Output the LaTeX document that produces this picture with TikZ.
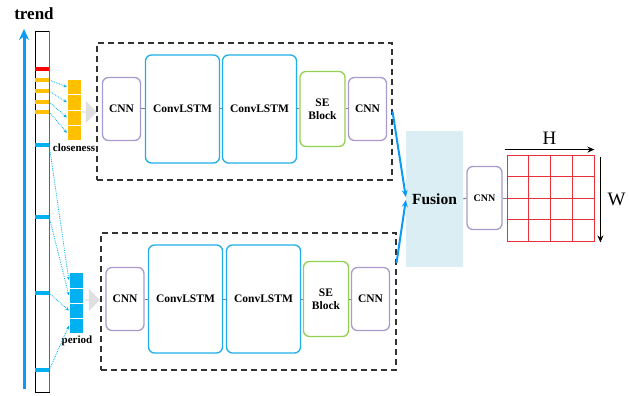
\documentclass[tikz,border=0pt]{standalone}
\usepackage{fontspec}
\setmainfont{Liberation Serif}
\usepackage{tikz}
\usetikzlibrary{shapes.arrows, arrows.meta, positioning, calc}
\definecolor{cnnPurple}{HTML}{A99BCB}
\definecolor{lstmBlue}{HTML}{1FAEE9}
\definecolor{seGreen}{HTML}{92D050}
\definecolor{closeOrange}{HTML}{FFC000}
\definecolor{periodBlue}{HTML}{00B0F0}
\definecolor{fusionBg}{HTML}{DAEEF3}
\definecolor{trendBlue}{HTML}{0C9BF2}
\definecolor{gridRed}{HTML}{E8303A}

\begin{document}
\begin{tikzpicture}[x=1pt, y=-1pt,
  block/.style={draw, rounded corners=6pt, line width=1.3pt, font=\bfseries\fontsize{11.5}{12.5}\selectfont, align=center, inner sep=1pt},
  cnn/.style={block, draw=cnnPurple, minimum width=38pt, minimum height=63pt},
  lstm/.style={block, draw=lstmBlue, minimum width=74pt, minimum height=108pt},
  seblock/.style={block, draw=seGreen, minimum width=45pt, minimum height=75pt},
  frame/.style={draw=black!80, line width=1.1pt, dash pattern=on 6pt off 4pt, minimum width=295pt, minimum height=137pt},
  link/.style={draw=gray, line width=1pt},
  tick/.style={minimum width=14pt, minimum height=4pt, inner sep=0pt},
  cell/.style={draw=white, line width=0.3pt, minimum width=14pt, minimum height=15.3pt, inner sep=0pt},
  feed/.style={-{Stealth[length=3.5pt, width=3pt]}, periodBlue, densely dotted, line width=0.8pt},
  into/.style={single arrow, fill=gray!25, minimum height=15pt, minimum width=22pt, single arrow head extend=4pt, inner sep=0pt},
  lbl/.style={font=\bfseries\fontsize{11}{12}\selectfont, inner sep=1pt}
]
  \useasboundingbox (0,0) rectangle (630,396);

  % time axis
  \node[font=\bfseries\fontsize{17}{18}\selectfont] (trend) at (34,14) {trend};
  \coordinate (trendFoot) at (24,389);
  \coordinate (trendTip) at (24,29);
  \draw[-{Stealth[length=11pt, width=10pt]}, trendBlue, line width=3pt] (trendFoot) -- (trendTip);
  \node[draw=black, line width=0.8pt, minimum width=14pt, minimum height=361pt, inner sep=0pt] (bar) at (42,211.5) {};
  \draw[gray!80!black, line width=1.6pt] (bar.north east) -- (bar.south east);

  \node[tick, fill=red] (r1) at (42,69) {};
  \node[tick, fill=closeOrange] (c1) at (42,80) {};
  \node[tick, fill=closeOrange] (c2) at (42,91) {};
  \node[tick, fill=closeOrange] (c3) at (42,102) {};
  \node[tick, fill=closeOrange] (c4) at (42,112) {};
  \node[tick, fill=periodBlue] (p1) at (42,145) {};
  \node[tick, fill=periodBlue] (p2) at (42,217) {};
  \node[tick, fill=periodBlue] (p3) at (42,293) {};
  \node[tick, fill=periodBlue] (p4) at (42,370) {};

  % input stacks
  \node[cell, fill=closeOrange] (cs1) at (74,87) {};
  \node[cell, fill=closeOrange] (cs2) at (74,102.3) {};
  \node[cell, fill=closeOrange] (cs3) at (74,117.6) {};
  \node[cell, fill=closeOrange] (cs4) at (74,132.9) {};
  \node[cell, fill=periodBlue] (ps1) at (76,280) {};
  \node[cell, fill=periodBlue] (ps2) at (76,295.3) {};
  \node[cell, fill=periodBlue] (ps3) at (76,310.6) {};
  \node[cell, fill=periodBlue] (ps4) at (76,325.9) {};
  \node[lbl] (closeLbl) at (74,148) {closeness};
  \node[lbl] (periodLbl) at (77,341) {period};

  \draw[feed] (c1.east) -- (cs1.west);
  \draw[feed] (c2.east) -- (cs2.west);
  \draw[feed] (c3.east) -- (cs3.west);
  \draw[feed] (c4.east) -- (cs4.west);
  \draw[feed] (p1.east) -- (ps1.west);
  \draw[feed] (p2.east) -- (ps2.west);
  \draw[feed] (p3.east) -- (ps3.west);
  \draw[feed] (p4.east) -- (ps4.west);

  \node[into] (closeIn) at (89,112) {};
  \node[into] (periodIn) at (92,300) {};

  % closeness branch
  \node[frame] (topFrame) at (244.5,111.5) {};
  \node[cnn] (cnnA) at (121.5,109) {CNN};
  \node[lstm] (lstmA) at (182.5,109) {ConvLSTM};
  \node[lstm] (lstmB) at (259.5,109) {ConvLSTM};
  \node[seblock] (seA) at (322.5,109) {SE\\Block};
  \node[cnn] (cnnB) at (367.5,109) {CNN};
  \draw[link] (cnnA) -- (lstmA);
  \draw[link] (lstmA) -- (lstmB);
  \draw[link] (lstmB) -- (seA);
  \draw[link] (seA) -- (cnnB);

  % period branch
  \node[frame] (botFrame) at (248.5,301.5) {};
  \node[cnn] (cnnC) at (125,299) {CNN};
  \node[lstm] (lstmC) at (185.5,299) {ConvLSTM};
  \node[lstm] (lstmD) at (263.5,299) {ConvLSTM};
  \node[seblock] (seB) at (326,299) {SE\\Block};
  \node[cnn] (cnnD) at (370.5,299) {CNN};
  \draw[link] (cnnC) -- (lstmC);
  \draw[link] (lstmC) -- (lstmD);
  \draw[link] (lstmD) -- (seB);
  \draw[link] (seB) -- (cnnD);

  % fusion and output
  \node[fill=fusionBg, minimum width=57pt, minimum height=136pt, font=\bfseries\fontsize{15.5}{16}\selectfont] (fusion) at (434.5,199) {Fusion};
  \draw[-{Stealth[length=7pt, width=6pt]}, trendBlue, line width=2pt] (topFrame.east) -- ([yshift=2pt]fusion.west);
  \draw[-{Stealth[length=7pt, width=6pt]}, trendBlue, line width=2pt] ($(botFrame.north east)!0.22!(botFrame.south east)$) -- ([yshift=-1pt]fusion.west);

  \node[cnn, minimum width=35pt, font=\bfseries\fontsize{10}{11}\selectfont] (cnnE) at (484.5,198) {CNN};
  \node[draw=gridRed, line width=0.8pt, minimum width=87pt, minimum height=86pt, inner sep=0pt] (grid) at (550.5,198) {};
  \foreach \k in {1,2,3} {
    \draw[gridRed, line width=0.8pt] ($(grid.north west)!\k/4!(grid.north east)$) -- ($(grid.south west)!\k/4!(grid.south east)$);
    \draw[gridRed, line width=0.8pt] ($(grid.north west)!\k/4!(grid.south west)$) -- ($(grid.north east)!\k/4!(grid.south east)$);
  }
  \draw[link] (fusion.east) -- (cnnE.west);
  \draw[link] (cnnE.east) -- (grid.west);

  \draw[-{Stealth[length=7pt, width=6pt]}, line width=1.6pt] ([xshift=-2pt,yshift=5pt]grid.north west) -- ([yshift=5pt]grid.north east)
    node[midway, above=1pt, font=\fontsize{19}{19}\selectfont] (hLbl) {H};
  \draw[-{Stealth[length=7pt, width=6pt]}, line width=1.6pt] ([xshift=6pt,yshift=-2pt]grid.north east) -- ([xshift=6pt,yshift=-1pt]grid.south east)
    node[midway, right=3pt, font=\fontsize{19}{19}\selectfont] (wLbl) {W};
\end{tikzpicture}
\end{document}
